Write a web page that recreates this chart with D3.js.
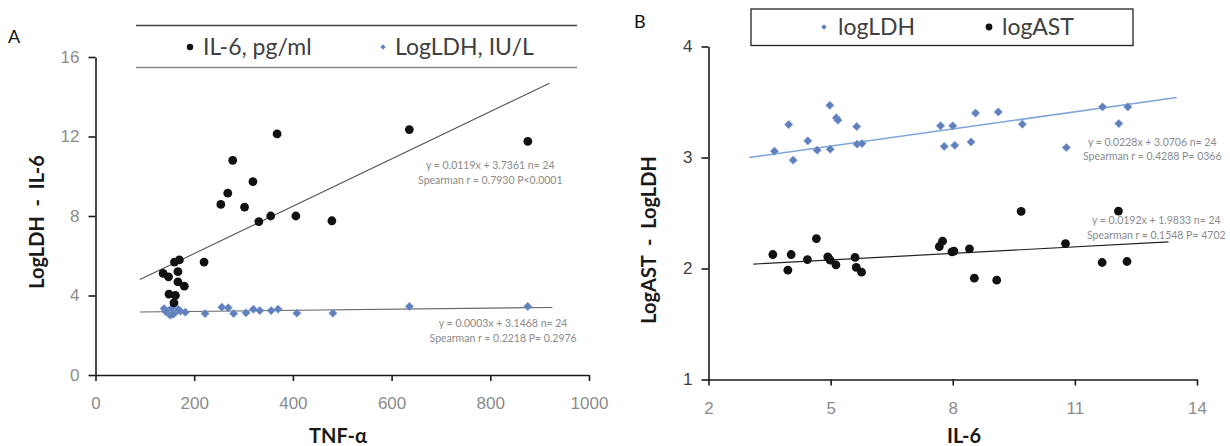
<!DOCTYPE html>
<html>
<head>
<meta charset="utf-8">
<script src="https://cdn.jsdelivr.net/npm/d3@7"></script>
<style>
  body { margin: 0; background: #fff; }
  svg { display: block; font-family: Lato, "Open Sans", sans-serif; }
  .axis path, .axis line { stroke: #1a1a1a; stroke-width: 1.6; }
  .note { fill: #8a8a8a; font-size: 10.5px; }
</style>
</head>
<body>
<svg id="chart" width="1230" height="446"></svg>
<script>
// ---- panel A: TNF-alpha vs IL-6 and LogLDH ----
const tnfIl6 = [368, 278, 319, 268, 254, 302, 331, 355, 406, 479, 220, 160, 170, 137, 148, 167, 167, 180, 149, 162, 159, 636, 876];
const il6A = [12.13, 10.8, 9.73, 9.15, 8.58, 8.45, 7.72, 8.0, 8.0, 7.76, 5.68, 5.68, 5.79, 5.11, 4.94, 5.2, 4.69, 4.47, 4.07, 4.0, 3.63, 12.35, 11.75];
const tnfLdh = [139, 147, 151, 155, 161, 166, 172, 182, 222, 256, 269, 280, 305, 320, 333, 356, 370, 408, 481, 636, 876, 142, 157, 168];
const ldhA = [3.34, 3.21, 3.01, 3.38, 3.14, 3.24, 3.21, 3.16, 3.09, 3.41, 3.38, 3.09, 3.13, 3.31, 3.24, 3.24, 3.31, 3.11, 3.11, 3.45, 3.45, 3.2, 3.05, 3.3];
const il6LineA = [[90, 4.8], [920, 14.68]];
const ldhLineA = [[90, 3.17], [926, 3.4]];
const xTicksA = [0, 200, 400, 600, 800, 1000];
const yTicksA = [0, 4, 8, 12, 16];

// ---- panel B: IL-6 vs logLDH and logAST ----
const il6Ldh = [3.62, 3.97, 4.08, 4.44, 4.67, 4.98, 4.99, 5.14, 5.18, 5.64, 5.65, 5.77, 7.7, 7.79, 8.0, 8.05, 8.45, 8.56, 9.12, 9.71, 10.79, 11.68, 12.08, 12.3];
const logLdhB = [3.057, 3.297, 2.976, 3.15, 3.066, 3.47, 3.075, 3.357, 3.336, 3.279, 3.12, 3.126, 3.285, 3.1, 3.285, 3.11, 3.14, 3.4, 3.41, 3.3, 3.09, 3.456, 3.306, 3.456];
const il6Ast = [3.58, 3.95, 4.03, 4.43, 4.65, 4.93, 4.99, 5.13, 5.6, 5.63, 5.76, 7.67, 7.75, 7.98, 8.03, 8.41, 8.53, 9.08, 9.68, 10.77, 11.67, 12.07, 12.28];
const logAstB = [2.126, 1.985, 2.126, 2.08, 2.27, 2.105, 2.075, 2.033, 2.1, 2.01, 1.967, 2.198, 2.246, 2.15, 2.156, 2.177, 1.913, 1.895, 2.514, 2.225, 2.054, 2.517, 2.063];
const ldhLineB = [[3.0, 3.0], [13.5, 3.54]];
const astLineB = [[3.1, 2.04], [13.3, 2.24]];
const xTicksB = [2, 5, 8, 11, 14];
const yTicksB = [1, 2, 3, 4];

const notesA = [
  { x: 800, y: 10.57, text: "y = 0.0119x + 3.7361  n= 24" },
  { x: 800, y: 9.78, text: "Spearman r = 0.7930 P<0.0001" },
  { x: 826, y: 2.6, text: "y = 0.0003x + 3.1468 n= 24" },
  { x: 826, y: 1.83, text: "Spearman r = 0.2218 P= 0.2976" }
];
const notesB = [
  { x: 12.9, y: 3.135, text: "y = 0.0228x + 3.0706 n= 24" },
  { x: 12.9, y: 3.014, text: "Spearman r = 0.4288 P= 0366" },
  { x: 13.0, y: 2.435, text: "y = 0.0192x + 1.9833 n= 24" },
  { x: 13.0, y: 2.3, text: "Spearman r = 0.1548 P= 4702" }
];

const dotColor = "#111";
const diamondColor = "#5f80bd";

const svg = d3.select("#chart");
// Excel-style diamond: a square turned 45 degrees
const diamond = d3.symbol().type(d3.symbolSquare);

function drawPanel(o) {
  const g = svg.append("g");

  g.append("g").attr("class", "axis")
    .attr("transform", `translate(0,${o.y.range()[0]})`)
    .call(d3.axisBottom(o.x).tickValues(o.xTicks).tickFormat(d3.format("d"))
      .tickSize(6).tickSizeOuter(0).tickPadding(16))
    .call(a => a.selectAll("text").attr("fill", "#8c8c8c").style("font-size", "17px"));

  g.append("g").attr("class", "axis")
    .attr("transform", `translate(${o.x.range()[0]},0)`)
    .call(d3.axisLeft(o.y).tickValues(o.yTicks).tickFormat(d3.format("d"))
      .tickSize(7).tickSizeOuter(0).tickPadding(9))
    .call(a => a.selectAll("text").attr("fill", o.yTickColor).style("font-size", "17px"));

  const line = d3.line().x(d => o.x(d[0])).y(d => o.y(d[1]));
  o.lines.forEach(l => {
    g.append("path").attr("d", line(l.pts)).attr("fill", "none")
      .attr("stroke", l.color).attr("stroke-width", l.width);
  });

  o.diamonds.forEach(s => {
    g.append("g").selectAll("path").data(s.xs).join("path")
      .attr("d", diamond.size(s.size))
      .attr("transform", (d, i) => `translate(${o.x(d)},${o.y(s.ys[i])}) rotate(45)`)
      .attr("fill", diamondColor).attr("stroke", "#7d9ad0").attr("stroke-width", 0.6);
  });

  o.dots.forEach(s => {
    g.append("g").selectAll("circle").data(s.xs).join("circle")
      .attr("cx", d => o.x(d)).attr("cy", (d, i) => o.y(s.ys[i]))
      .attr("r", s.r).attr("fill", dotColor);
  });

  g.selectAll("text.note").data(o.notes).join("text").attr("class", "note")
    .attr("x", d => o.x(d.x)).attr("y", d => o.y(d.y))
    .attr("text-anchor", "middle").attr("dy", "0.35em").text(d => d.text);

  g.append("text").attr("x", o.titleX[0]).attr("y", o.titleX[1])
    .attr("text-anchor", "middle").attr("font-weight", "bold").attr("font-size", "20px")
    .attr("fill", "#1a1a1a").text(o.xLabel);

  g.append("text").attr("transform", `translate(${o.titleY[0]},${o.titleY[1]}) rotate(-90)`)
    .attr("text-anchor", "middle").attr("font-weight", "bold").attr("font-size", "20px")
    .attr("fill", "#1a1a1a").attr("xml:space", "preserve").text(o.yLabel);

  g.append("text").attr("x", o.letter[0]).attr("y", o.letter[1])
    .attr("font-size", "18px").attr("fill", "#111").text(o.letter[2]);
  return g;
}

// panel A
const xA = d3.scaleLinear().domain([0, 1000]).range([95.5, 589]);
const yA = d3.scaleLinear().domain([0, 16]).range([375, 57]);
drawPanel({
  x: xA, y: yA, xTicks: xTicksA, yTicks: yTicksA, yTickColor: "#8c8c8c",
  lines: [
    { pts: il6LineA, color: "#555", width: 1.1 },
    { pts: ldhLineA, color: "#666", width: 1.1 }
  ],
  diamonds: [{ xs: tnfLdh, ys: ldhA, size: 34 }],
  dots: [{ xs: tnfIl6, ys: il6A, r: 4.4 }],
  notes: notesA,
  xLabel: "TNF-α", titleX: [338, 443],
  yLabel: "LogLDH  -  IL-6", titleY: [44, 222],
  letter: [8, 43, "A"]
});

// legend A: two horizontal rules with entries between
const legA = svg.append("g");
legA.append("line").attr("x1", 136).attr("x2", 577).attr("y1", 25.5).attr("y2", 25.5)
  .attr("stroke", "#444").attr("stroke-width", 1.6);
legA.append("line").attr("x1", 136).attr("x2", 577).attr("y1", 67.5).attr("y2", 67.5)
  .attr("stroke", "#888").attr("stroke-width", 1.3);
legA.append("circle").attr("cx", 190).attr("cy", 47).attr("r", 3.2).attr("fill", dotColor);
legA.append("text").attr("x", 203).attr("y", 55).attr("font-size", "23px").attr("fill", "#404040").text("IL-6, pg/ml");
legA.append("path").attr("d", diamond.size(14)).attr("transform", "translate(383,47) rotate(45)").attr("fill", diamondColor);
legA.append("text").attr("x", 395).attr("y", 55).attr("font-size", "23px").attr("fill", "#404040").text("LogLDH, IU/L");

// panel B
const xB = d3.scaleLinear().domain([2, 14]).range([708.5, 1197]);
const yB = d3.scaleLinear().domain([1, 4]).range([379.5, 46.5]);
drawPanel({
  x: xB, y: yB, xTicks: xTicksB, yTicks: yTicksB, yTickColor: "#404040",
  lines: [
    { pts: ldhLineB, color: "#7ea6d8", width: 1.6 },
    { pts: astLineB, color: "#222", width: 1.2 }
  ],
  diamonds: [{ xs: il6Ldh, ys: logLdhB, size: 34 }],
  dots: [{ xs: il6Ast, ys: logAstB, r: 4.4 }],
  notes: notesB,
  xLabel: "IL-6", titleX: [964, 443],
  yLabel: "LogAST  -  LogLDH", titleY: [656, 240],
  letter: [634, 28, "B"]
});

// legend B: boxed
const legB = svg.append("g");
legB.append("rect").attr("x", 751).attr("y", 9).attr("width", 382).attr("height", 36.5)
  .attr("fill", "#fff").attr("stroke", "#222").attr("stroke-width", 1.3);
legB.append("path").attr("d", diamond.size(14)).attr("transform", "translate(824,27) rotate(45)").attr("fill", diamondColor);
legB.append("text").attr("x", 838).attr("y", 35).attr("font-size", "23px").attr("fill", "#404040").text("logLDH");
legB.append("circle").attr("cx", 989).attr("cy", 27).attr("r", 3.4).attr("fill", dotColor);
legB.append("text").attr("x", 1002).attr("y", 35).attr("font-size", "23px").attr("fill", "#404040").text("logAST");
</script>
</body>
</html>
